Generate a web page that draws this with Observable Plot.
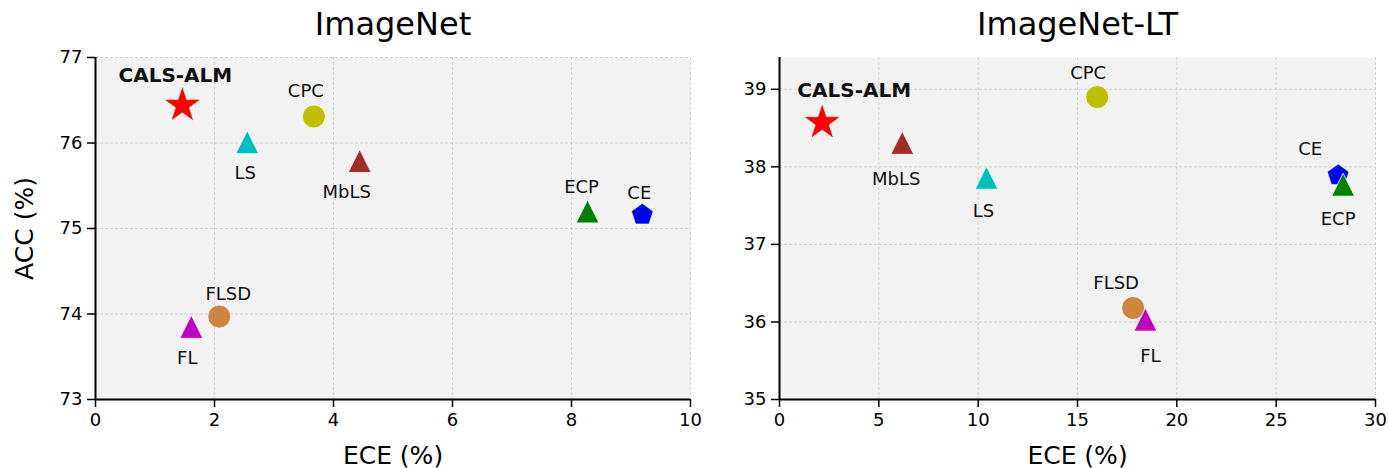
<!DOCTYPE html>
<html>
<head>
<meta charset="utf-8">
<script src="https://cdn.jsdelivr.net/npm/d3@7"></script>
<script src="https://cdn.jsdelivr.net/npm/@observablehq/plot@0.6"></script>
<style>
  html, body { margin: 0; padding: 0; background: white; }
  #wrap { display: flex; width: 1388px; height: 468px; }
  #wrap svg { overflow: visible; }
</style>
</head>
<body>
<div id="wrap"></div>
<script>
// ---------------- data ----------------
const methods = ["CALS-ALM", "CE", "ECP", "LS", "MbLS", "FLSD", "FL", "CPC"];

const imagenetECE = [1.46, 9.19, 8.27, 2.55, 4.44, 2.08, 1.61, 3.67];
const imagenetACC = [76.44, 75.16, 75.20, 76.01, 75.79, 73.97, 73.85, 76.31];

const imagenetLtECE = [2.15, 28.12, 28.37, 10.42, 6.18, 17.80, 18.42, 15.99];
const imagenetLtACC = [38.57, 37.89, 37.77, 37.86, 38.31, 36.18, 36.03, 38.90];

const imagenetXTicks = [0, 2, 4, 6, 8, 10];
const imagenetYTicks = [73, 74, 75, 76, 77];
const imagenetLtXTicks = [0, 5, 10, 15, 20, 25, 30];
const imagenetLtYTicks = [35, 36, 37, 38, 39];

// ---------------- styles ----------------
function regularPolygonPoints(n, r, startDeg) {
  const pts = [];
  for (let k = 0; k < n; k++) {
    const a = (startDeg + 360 * k / n) * Math.PI / 180;
    pts.push([r * Math.cos(a), r * Math.sin(a)]);
  }
  return pts;
}
const pentagonSym = {
  draw(ctx, size) {
    const r = Math.sqrt(size / Math.PI);
    const pts = regularPolygonPoints(5, r, -90);
    ctx.moveTo(pts[0][0], pts[0][1]);
    for (let i = 1; i < pts.length; i++) ctx.lineTo(pts[i][0], pts[i][1]);
    ctx.closePath();
  }
};
const triangleSym = {
  draw(ctx, size) {
    const r = Math.sqrt(size / Math.PI);
    ctx.moveTo(0, -r);
    ctx.lineTo(r, r);
    ctx.lineTo(-r, r);
    ctx.closePath();
  }
};
const starSym = {
  draw(ctx, size) {
    const R = Math.sqrt(size / Math.PI);
    const ri = R * 0.381966;
    for (let k = 0; k < 10; k++) {
      const a = (-90 + 36 * k) * Math.PI / 180;
      const rr = k % 2 === 0 ? R : ri;
      const x = rr * Math.cos(a), y = rr * Math.sin(a);
      if (k === 0) ctx.moveTo(x, y); else ctx.lineTo(x, y);
    }
    ctx.closePath();
  }
};

const style = {
  "CALS-ALM": { color: "#ff0000", symbol: starSym, r: 19.5 },
  "CE":       { color: "#0000ff", symbol: pentagonSym, r: 11.5 },
  "ECP":      { color: "#008000", symbol: triangleSym, r: 11.5 },
  "LS":       { color: "#00bfbf", symbol: triangleSym, r: 11.5 },
  "MbLS":     { color: "#a52a2a", symbol: triangleSym, r: 11.5 },
  "FLSD":     { color: "#cd853f", symbol: "circle", r: 11.5 },
  "FL":       { color: "#bf00bf", symbol: triangleSym, r: 11.5 },
  "CPC":      { color: "#bfbf00", symbol: "circle", r: 11.5 }
};

// label offsets (screen px from marker centre)
const imagenetLabelOffsets = {
  "CALS-ALM": [-7, -30], "CE": [-3, -22], "ECP": [-6, -24], "LS": [-2, 31],
  "MbLS": [-13, 31], "FLSD": [9, -22], "FL": [-4, 31], "CPC": [-8, -25]
};
const imagenetLtLabelOffsets = {
  "CALS-ALM": [32, -32], "CE": [-28, -26], "ECP": [-5, 35], "LS": [-3, 34],
  "MbLS": [-6, 36], "FLSD": [-17, -25], "FL": [5, 37], "CPC": [-9, -24]
};

const FONT = "DejaVu Sans, Liberation Sans, sans-serif";

function panel(opts) {
  const data = methods.map((m, i) => ({ method: m, ece: opts.ece[i], acc: opts.acc[i] }));
  const marks = [
    Plot.frame({ fill: "#f2f2f2", stroke: "none" }),
    Plot.gridX(opts.xTicks, { stroke: "#c9c9c9", strokeOpacity: 1, strokeWidth: 0.8, strokeDasharray: "3,2" }),
    Plot.gridY(opts.yTicks, { stroke: "#c9c9c9", strokeOpacity: 1, strokeWidth: 0.8, strokeDasharray: "3,2" }),
    Plot.axisX(opts.xTicks, { tickSize: 8, tickPadding: 6, fontSize: 18, strokeWidth: 1.5, label: null, tickFormat: d3.format("d") }),
    Plot.axisY(opts.yTicks, { tickSize: 8, tickPadding: 5, fontSize: 18, strokeWidth: 1.5, label: null, tickFormat: d3.format("d") }),
    Plot.ruleX([opts.xDomain[0]], { stroke: "black", strokeWidth: 2 }),
    Plot.ruleY([opts.yDomain[0]], { stroke: "black", strokeWidth: 2 })
  ];
  for (const m of methods) {
    const s = style[m];
    marks.push(Plot.dot(data.filter(d => d.method === m), {
      x: "ece", y: "acc", symbol: s.symbol, r: s.r, fill: s.color,
      stroke: "white", strokeWidth: 0.8
    }));
  }
  for (const m of methods) {
    const [dx, dy] = opts.offsets[m];
    marks.push(Plot.text(data.filter(d => d.method === m), {
      x: "ece", y: "acc", text: "method", dx, dy,
      fontSize: m === "CALS-ALM" ? 20 : 18,
      fontWeight: m === "CALS-ALM" ? "bold" : "normal",
      fill: "#111"
    }));
  }
  marks.push(Plot.text([opts.title], { text: d => d, frameAnchor: "top", lineAnchor: "middle", dy: -33, fontSize: 32, fill: "black" }));
  marks.push(Plot.text(["ECE (%)"], { text: d => d, frameAnchor: "bottom", lineAnchor: "middle", dy: 56, fontSize: 25, fill: "black" }));
  if (opts.yLabel) {
    marks.push(Plot.text([opts.yLabel], { text: d => d, frameAnchor: "left", textAnchor: "middle", lineAnchor: "middle", dx: -71, rotate: -90, fontSize: 25, fill: "black" }));
  }
  return Plot.plot({
    width: opts.width,
    height: 468,
    marginLeft: opts.marginLeft,
    marginRight: opts.marginRight,
    marginTop: 57,
    marginBottom: 69,
    x: { domain: opts.xDomain },
    y: { domain: opts.yDomain },
    style: { fontFamily: FONT, color: "black", background: "none", overflow: "visible" },
    marks
  });
}

const wrap = document.getElementById("wrap");
wrap.appendChild(panel({
  ece: imagenetECE, acc: imagenetACC, offsets: imagenetLabelOffsets,
  xTicks: imagenetXTicks, yTicks: imagenetYTicks,
  xDomain: [0, 10], yDomain: [73, 77],
  title: "ImageNet", yLabel: "ACC (%)",
  width: 694, marginLeft: 95, marginRight: 4
}));
wrap.appendChild(panel({
  ece: imagenetLtECE, acc: imagenetLtACC, offsets: imagenetLtLabelOffsets,
  xTicks: imagenetLtXTicks, yTicks: imagenetLtYTicks,
  xDomain: [0, 30], yDomain: [35, 39.41],
  title: "ImageNet-LT", yLabel: null,
  width: 694, marginLeft: 85, marginRight: 13
}));
</script>
</body>
</html>
